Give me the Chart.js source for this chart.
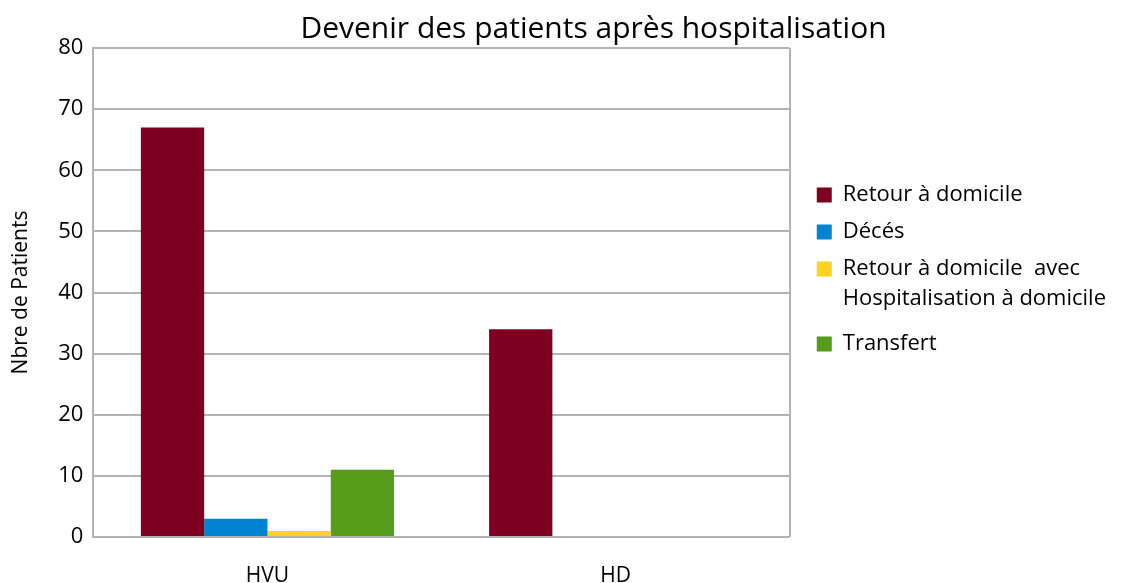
<!DOCTYPE html>
<html lang="fr">
<head>
  <meta charset="UTF-8" />
  <title>Devenir des patients après hospitalisation</title>
  <style>
    html, body { margin: 0; padding: 0; background: #fff; }
    .chart-box { width: 1142px; height: 583px; position: relative; }
  </style>
</head>
<body>
  <div class="chart-box">
    <canvas id="devenirChart"></canvas>
  </div>

  <script src="https://cdn.jsdelivr.net/npm/chart.js"></script>
  <script>
    // données
    const categories = ['HVU', 'HD'];
    const seriesLabels = [
      'Retour à domicile',
      'Décés',
      ['Retour à domicile  avec', 'Hospitalisation à domicile'],
      'Transfert'
    ];
    const retourDomicile = [67, 34];
    const deces = [3, 0];
    const retourHad = [1, 0];
    const transfert = [11, 0];
    const yTicks = [0, 10, 20, 30, 40, 50, 60, 70, 80];

    const colors = ['#7e0021', '#0084d1', '#ffd320', '#579d1c'];
    const values = [retourDomicile, deces, retourHad, transfert];
    const font = "'Open Sans', 'Noto Sans', sans-serif";

    // titre un peu décalé à droite, légende décollée du graphe et remontée
    const nudge = {
      id: 'nudge',
      afterLayout(chart) {
        if (chart.titleBlock) chart.titleBlock.left += 79;
        const lg = chart.legend;
        if (lg) {
          lg.left += 12; lg.right += 12;
          lg.top -= 26; lg.bottom -= 26;
        }
      }
    };

    const ctx = document.getElementById('devenirChart').getContext('2d');
    new Chart(ctx, {
      type: 'bar',
      data: {
        labels: categories,
        datasets: seriesLabels.map((label, i) => ({
          label: label,
          data: values[i],
          backgroundColor: colors[i],
          borderWidth: 0,
          barPercentage: 1.0,
          categoryPercentage: 0.727
        }))
      },
      options: {
        responsive: true,
        maintainAspectRatio: false,
        animation: false,
        layout: { padding: { top: 8, right: 38, bottom: 0, left: 4 } },
        plugins: {
          title: {
            display: true,
            text: 'Devenir des patients après hospitalisation',
            color: '#000',
            font: { family: font, size: 30, weight: 'normal' },
            padding: { top: 3, bottom: 1 }
          },
          legend: {
            position: 'right',
            align: 'center',
            maxWidth: 420,
            labels: {
              color: '#000',
              font: { family: font, size: 22, lineHeight: 1.36 },
              boxWidth: 15,
              boxHeight: 15,
              padding: 15
            }
          }
        },
        scales: {
          x: {
            grid: {
              drawTicks: false,
              lineWidth: 2,
              color: (c) => c.index === 1 ? 'rgba(0,0,0,0)' : '#b3b3b3'
            },
            border: { display: false },
            ticks: {
              color: '#000',
              font: { family: font, size: 21 },
              padding: 26
            },
            afterFit: (scale) => { scale.height = 46; }
          },
          y: {
            min: 0,
            max: 80,
            afterBuildTicks: (scale) => { scale.ticks = yTicks.map(v => ({ value: v })); },
            grid: { drawTicks: false, lineWidth: 2, color: '#b3b3b3' },
            border: { display: true, color: '#b3b3b3', width: 2 },
            ticks: {
              color: '#000',
              font: { family: font, size: 22 },
              padding: 10
            },
            title: {
              display: true,
              text: 'Nbre de Patients',
              color: '#000',
              font: { family: font, size: 21 },
              padding: { top: 4, bottom: 15 }
            }
          }
        }
      },
      plugins: [nudge]
    });
  </script>
</body>
</html>
